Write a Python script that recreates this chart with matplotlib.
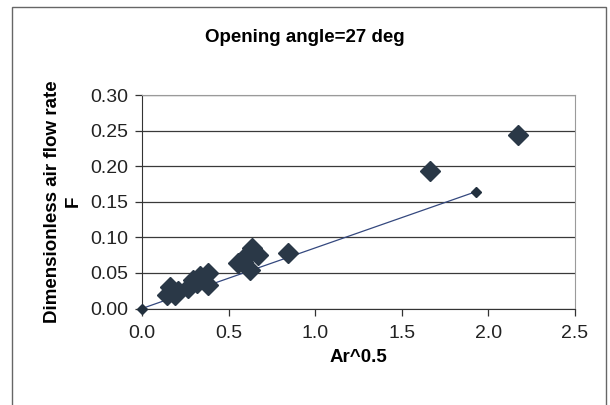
import matplotlib
matplotlib.use("Agg")
import matplotlib.pyplot as plt  # noqa: E402
from matplotlib.patches import Rectangle  # noqa: E402

plt.rcParams["font.family"] = ["Liberation Sans", "DejaVu Sans"]

# measured points (Ar^0.5, F)
ar_meas = [0.143, 0.162, 0.190, 0.208,
           0.266, 0.295, 0.316, 0.335, 0.382, 0.382,
           0.555, 0.584, 0.595, 0.624, 0.634, 0.670,
           0.845, 1.665, 2.170]
f_meas = [0.019, 0.030, 0.019, 0.024,
          0.029, 0.040, 0.036, 0.045, 0.050, 0.033,
          0.064, 0.066, 0.073, 0.054, 0.085, 0.075,
          0.078, 0.193, 0.244]

# fitted line end points
ar_fit = [0.0, 1.926]
f_fit = [0.0, 0.164]

xticks = [0.0, 0.5, 1.0, 1.5, 2.0, 2.5]
yticks = [0.00, 0.05, 0.10, 0.15, 0.20, 0.25, 0.30]

W, H = 610, 405
fig = plt.figure(figsize=(W / 100, H / 100), dpi=100)
ax = fig.add_axes([142 / W, 1 - 308.5 / H, (575 - 142) / W, (308.5 - 95) / H])

ax.plot(ar_fit, f_fit, color="#34487e", lw=0.9, marker="D", ms=5.5,
        mfc="#22303e", mec="#22303e", zorder=3, clip_on=False)
ax.plot(ar_meas, f_meas, ls="none", marker="D", ms=10,
        mfc="#2a3847", mec="#2a3847", zorder=4, clip_on=False)

ax.set_xlim(0, 2.5); ax.set_ylim(0, 0.30)
ax.set_xticks(xticks); ax.set_xticklabels([f"{v:.1f}" for v in xticks])
ax.set_yticks(yticks); ax.set_yticklabels([f"{v:.2f}" for v in yticks])
ax.yaxis.grid(True, color="#3a3a3a", lw=0.9)
ax.set_axisbelow(True)
ax.tick_params(labelsize=14, length=5, width=0.9, color="#333333", colors="#222222")
ax.tick_params(axis="x", pad=7)
ax.tick_params(axis="y", pad=5)
for side in ("top", "right"):
    ax.spines[side].set_color("#9a9a9a")
for side in ("left", "bottom"):
    ax.spines[side].set_color("#333333")

ax.set_xlabel("Ar^0.5", fontsize=13.5, fontweight="bold", labelpad=5)
ax.set_ylabel("Dimensionless air flow rate\nF", fontsize=13.5, fontweight="bold",
              labelpad=6, linespacing=1.3)
fig.text(305 / W, 1 - 38 / H, "Opening angle=27 deg", ha="center", va="center",
         fontsize=13.5, fontweight="bold")

fig.patches.append(Rectangle((12 / W, -0.02), (606 - 12) / W, 1 - 7 / H + 0.02,
                             transform=fig.transFigure, fill=False,
                             ec="#666666", lw=1.0))

fig.savefig("out.png", dpi=100)
